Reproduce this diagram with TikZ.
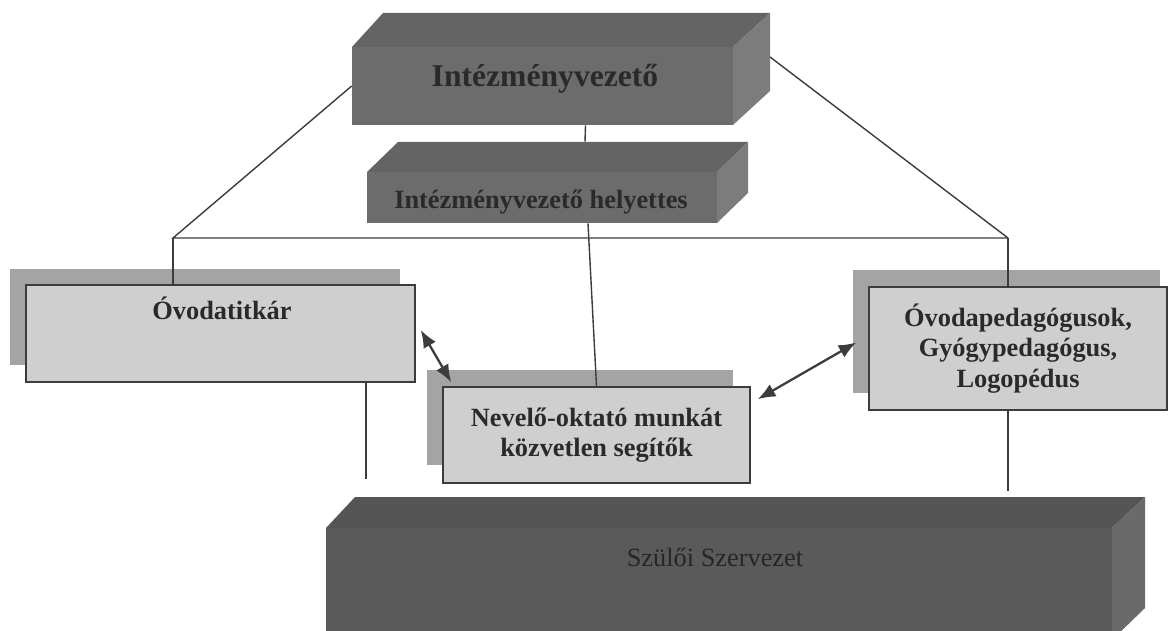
\documentclass[tikz,border=0pt]{standalone}
\usepackage{fontspec}
\setmainfont{Liberation Serif}
\usetikzlibrary{arrows.meta}

\definecolor{darkface}{HTML}{6C6C6C}
\definecolor{darktop}{HTML}{646464}
\definecolor{darkside}{HTML}{7C7C7C}
\definecolor{basefront}{HTML}{5A5A5A}
\definecolor{basetop}{HTML}{555555}
\definecolor{baseside}{HTML}{6A6A6A}
\definecolor{lightface}{HTML}{CFCFCF}
\definecolor{shadowgray}{HTML}{A4A4A4}
\definecolor{linegray}{HTML}{3C3C3C}
\definecolor{textgray}{HTML}{2A2A2A}

\begin{document}
\begin{tikzpicture}[x=0.02cm, y=-0.02cm,
    darkfront/.style={draw=none, fill=darkface, inner sep=0pt},
    basefront/.style={draw=none, fill=basefront, inner sep=0pt},
    lightbox/.style={draw=linegray, line width=0.9pt, fill=lightface, inner sep=0pt},
    bigtxt/.style={font=\fontsize{18}{21}\selectfont\bfseries, text=textgray},
    boldtxt/.style={font=\fontsize{15}{17.5}\selectfont\bfseries, text=textgray, align=center},
    basetxt/.style={font=\fontsize{15}{17.5}\selectfont, text=black!85},
    conn/.style={draw=linegray, line width=0.8pt},
    twoway/.style={draw=linegray, line width=1.3pt, <->},
    >={Latex[length=10pt,width=8pt]}]
    \useasboundingbox (0,0) rectangle (1168,631);

    % Draw the head box
    \fill[darktop] (352,47) -- (383,13) -- (770,13) -- (733,47) -- cycle;
    \fill[darkside] (733,47) -- (770,13) -- (770,91) -- (733,125) -- cycle;
    \node[darkfront, minimum width=7.62cm, minimum height=1.56cm] (vez) at (542.5,86) {};
    \node[bigtxt] (vez-t) at (545,79) {Intézményvezető};

    % Draw the deputy box
    \fill[darktop] (367,172) -- (398,142) -- (748,142) -- (717,172) -- cycle;
    \fill[darkside] (717,172) -- (748,142) -- (748,193) -- (717,223) -- cycle;
    \node[darkfront, minimum width=7.0cm, minimum height=1.02cm] (hely) at (542,197.5) {};
    \node[boldtxt] (hely-t) at (541,202) {Intézményvezető helyettes};

    % Draw the light boxes with their shadows
    \fill[shadowgray] (10,269) rectangle (400,365);
    \node[lightbox, minimum width=7.78cm, minimum height=1.94cm] (titk) at (220.5,333.5) {};
    \node[boldtxt] (titk-t) at (222,308) {Óvodatitkár};

    \fill[shadowgray] (427,370) rectangle (733,465);
    \node[lightbox, boldtxt, minimum width=6.14cm, minimum height=1.92cm] (nev) at (596.5,435)
        {Nevelő-oktató munkát\\közvetlen segítők};

    \fill[shadowgray] (853,270) rectangle (1160,393);
    \node[lightbox, boldtxt, minimum width=5.96cm, minimum height=2.46cm] (ped) at (1018,348.5)
        {Óvodapedagógusok,\\Gyógypedagógus,\\Logopédus};

    % Draw the parents box
    \fill[basetop] (326,528) -- (355,497) -- (1145,497) -- (1112,528) -- cycle;
    \fill[baseside] (1112,528) -- (1145,497) -- (1145,608) -- (1112,640) -- cycle;
    \node[basefront, minimum width=15.72cm, minimum height=2.24cm] (szulo) at (719,584) {};
    \node[basetxt] (szulo-t) at (715,557) {Szülői Szervezet};

    % Draw the connecting lines
    \coordinate (busL) at (173,238);
    \coordinate (busR) at (1008,238);
    \coordinate (vezR) at (770,57);
    \draw[conn] (vez.west) -- (busL) -- (busR);
    \draw[conn] (vezR) -- (busR);
    \draw[conn] (busL) -- (busL |- titk.north);
    \draw[conn] (busR) -- (busR |- ped.north);
    \draw[conn] ([shift={(43,0)}]vez.south) -- ([shift={(43,-30)}]hely.north);
    \draw[conn] ([shift={(46,0)}]hely.south) -- (nev.north);
    \draw[conn] ([shift={(145.5,0)}]titk.south) -- ++(0,96);
    \draw[conn] ([shift={(-10,0)}]ped.south) -- ++(0,80);

    % Draw the double arrows
    \draw[twoway] ([shift={(5,-3.5)}]titk.east) -- ([shift={(9,-4)}]nev.north west);
    \draw[twoway] ([shift={(-12,-6)}]ped.west) -- ([shift={(7,13)}]nev.north east);
\end{tikzpicture}
\end{document}
